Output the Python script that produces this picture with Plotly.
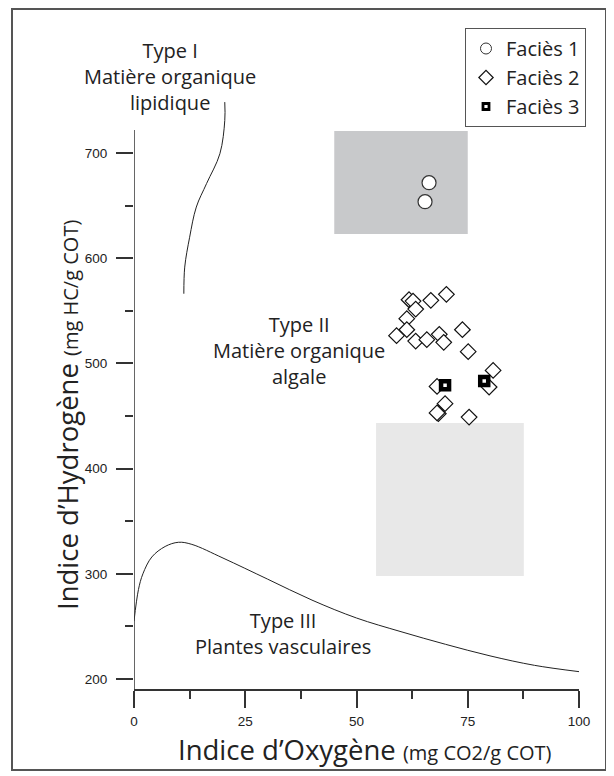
import plotly.graph_objects as go

# ---------------- data ----------------
facies1_x = [66.3, 65.4]
facies1_y = [671.9, 653.8]

facies2_x = [61.8, 62.7, 63.3, 66.7, 70.2, 61.3, 61.3, 59.0, 63.3, 65.8, 68.6, 69.6,
             73.8, 75.1, 80.7, 68.1, 79.8, 69.9, 68.4, 68.1, 75.3]
facies2_y = [560.6, 559.3, 551.7, 560.0, 565.7, 542.6, 532.1, 526.4, 521.3, 522.6, 527.7, 520.1,
             532.1, 511.2, 493.4, 478.2, 477.6, 461.8, 452.3, 453.0, 449.0]

facies3_x = [69.9, 78.7]
facies3_y = [479.2, 483.3]

type1_x = [20.4, 20.4, 19.3, 16.3, 14.0, 12.5, 11.4, 11.2]
type1_y = [748.5, 731.0, 699.4, 671.0, 648.7, 620.0, 591.6, 566.3]

type3_x = [0, 1, 2, 4, 7, 10, 13, 20, 30, 40, 50, 60, 70, 80, 90, 100]
type3_y = [255, 285, 300, 316, 326, 330, 328, 315, 295, 275, 258, 245, 233, 222, 213, 207]

x_ticks = [0, 25, 50, 75, 100]
x_minor = [12.5, 37.5, 62.5, 87.5]
y_ticks = [200, 300, 400, 500, 600, 700]
y_minor = [250, 350, 450, 550, 650]

# ---------------- figure ----------------
OFF = 8                       # page body margin in the browser
W, H = 614 - OFF, 776 - OFF
L, R, T, B = 126, 35, 82, 87
X0, X1 = 0, 100
Y0, Y1 = 190.5, 760


def px(xp):  # page pixel -> paper x
    return (xp - OFF - L) / (W - L - R)


def py(yp):  # page pixel -> paper y
    return (H - B - (yp - OFF)) / (H - B - T)


fig = go.Figure()

# reference curves
fig.add_trace(go.Scatter(x=type1_x, y=type1_y, mode="lines", line=dict(color="#222", width=1, shape="spline"),
                         showlegend=False, hoverinfo="skip"))
fig.add_trace(go.Scatter(x=type3_x, y=type3_y, mode="lines", line=dict(color="#222", width=1, shape="spline"),
                         showlegend=False, hoverinfo="skip"))

fig.add_trace(go.Scatter(x=facies2_x, y=facies2_y, mode="markers", name="Faciès 2", showlegend=False,
                         marker=dict(symbol="diamond", size=12, color="white", line=dict(color="#111", width=1.2))))
fig.add_trace(go.Scatter(x=facies1_x, y=facies1_y, mode="markers", name="Faciès 1", showlegend=False,
                         marker=dict(symbol="circle", size=14, color="white", line=dict(color="#333", width=1.2))))
fig.add_trace(go.Scatter(x=facies3_x, y=facies3_y, mode="markers", name="Faciès 3", showlegend=False,
                         marker=dict(symbol="square", size=8, color="white", line=dict(color="#000", width=4.5))))

# legend entries (smaller symbols as in the reference legend)
fig.add_trace(go.Scatter(x=[None], y=[None], mode="markers", name="Faciès 1",
                         marker=dict(symbol="circle", size=11, color="white", line=dict(color="#333", width=1))))
fig.add_trace(go.Scatter(x=[None], y=[None], mode="markers", name="Faciès 2",
                         marker=dict(symbol="diamond", size=11, color="white", line=dict(color="#111", width=1.2))))
fig.add_trace(go.Scatter(x=[None], y=[None], mode="markers", name="Faciès 3",
                         marker=dict(symbol="square", size=6, color="white", line=dict(color="#000", width=2.8))))

# shaded boxes
fig.add_shape(type="rect", x0=45, x1=75, y0=623, y1=721, fillcolor="#c8c9cb", line=dict(width=0), layer="below")
fig.add_shape(type="rect", x0=54.4, x1=87.6, y0=298, y1=443.3, fillcolor="#e8e8e8", line=dict(width=0), layer="below")

# y axis line (stops at ~722)
fig.add_shape(type="line", x0=0, x1=0, y0=Y0, y1=722, line=dict(color="#333", width=1.5), layer="above")

# outer frame
fig.add_shape(type="rect", xref="paper", yref="paper", x0=px(12), x1=px(606), y0=py(770), y1=py(9),
              line=dict(color="#555", width=2), fillcolor="rgba(0,0,0,0)")

TXT = dict(family="Open Sans, sans-serif", color="#222")
C = dict(showarrow=False, xanchor="center", yanchor="middle", align="center")

fig.add_annotation(x=8, y=py(76), yref="paper", text="Type I<br>Matière organique<br>lipidique",
                   font=dict(size=20, **TXT), **C)
fig.add_annotation(x=37, y=512.4, text="Type II<br>Matière organique<br>algale",
                   font=dict(size=20, **TXT), **C)
fig.add_annotation(x=33.5, y=243.5, text="Type III<br>Plantes vasculaires",
                   font=dict(size=20, **TXT), **C)

fig.add_annotation(xref="paper", yref="paper", x=px(365), y=py(749),
                   text="Indice d’Oxygène <span style='font-size:20px'>(mg CO2/g COT)</span>",
                   font=dict(size=27.5, **TXT), **C)
fig.add_annotation(xref="paper", yref="paper", x=px(67), y=py(415), textangle=-90,
                   text="Indice d’Hydrogène <span style='font-size:20px'>(mg HC/g COT)</span>",
                   font=dict(size=27.5, **TXT), **C)

TICKFONT = dict(family="Liberation Sans, Arial", size=13.5, color="#222")

fig.update_layout(
    width=W, height=H,
    margin=dict(l=L, r=R, t=T, b=B),
    paper_bgcolor="white", plot_bgcolor="white",
    showlegend=True,
    legend=dict(x=px(586), y=py(28), xanchor="right", yanchor="top",
                bordercolor="#555", borderwidth=1, bgcolor="white",
                font=dict(size=20, **TXT), traceorder="normal",
                itemwidth=30, tracegroupgap=0),
    xaxis=dict(range=[X0, X1], showgrid=False, zeroline=False, showline=True, linecolor="#333", linewidth=1.5,
               tickmode="array", tickvals=x_ticks, ticks="outside", ticklen=17, tickwidth=1.5, tickcolor="#333",
               tickfont=TICKFONT, ticklabelstandoff=2,
               minor=dict(tickvals=x_minor, ticks="outside", ticklen=8, tickwidth=1.5,
                          tickcolor="#333", showgrid=False)),
    yaxis=dict(range=[Y0, Y1], showgrid=False, zeroline=False, showline=False,
               tickmode="array", tickvals=y_ticks, ticks="outside", ticklen=17, tickwidth=1.5, tickcolor="#333",
               tickfont=TICKFONT, ticklabelstandoff=6,
               minor=dict(tickvals=y_minor, ticks="outside", ticklen=8, tickwidth=1.5,
                          tickcolor="#333", showgrid=False)),
)

fig.write_html("out.html")
